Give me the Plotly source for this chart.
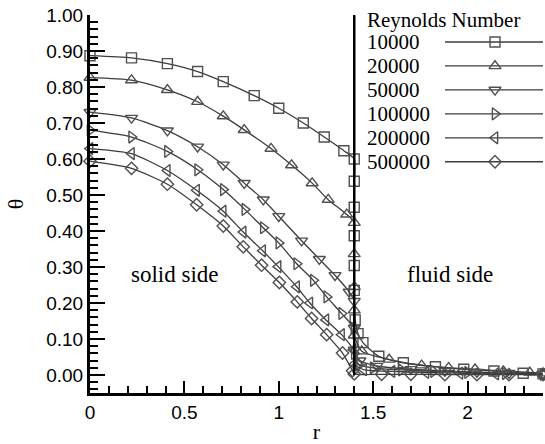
import plotly.graph_objects as go

# ---------------- data ----------------
reynolds = ["10000", "20000", "50000", "100000", "200000", "500000"]
symbols = ["square-open", "triangle-up-open", "triangle-down-open",
           "triangle-right-open", "triangle-left-open", "diamond-open"]

r_10000 = [0, 0.22, 0.41, 0.57, 0.706, 0.87, 1.0, 1.13, 1.241, 1.345, 1.40,
           1.40, 1.40, 1.40, 1.40, 1.40, 1.405, 1.42, 1.446, 1.53, 1.66, 1.83,
           1.98, 2.14, 2.295, 2.40]
t_10000 = [0.887, 0.881, 0.865, 0.843, 0.815, 0.776, 0.741, 0.70, 0.661, 0.623,
           0.60, 0.538, 0.466, 0.387, 0.304, 0.235, 0.153, 0.115, 0.09, 0.052,
           0.034, 0.023, 0.016, 0.011, 0.005, 0.003]

r_20000 = [0, 0.22, 0.41, 0.57, 0.706, 0.817, 0.959, 1.068, 1.177, 1.262, 1.36,
           1.40, 1.40, 1.40, 1.40, 1.40, 1.44, 1.585, 1.757, 1.90, 2.04, 2.19,
           2.33, 2.40]
t_20000 = [0.826, 0.819, 0.792, 0.759, 0.719, 0.681, 0.629, 0.583, 0.533, 0.487,
           0.446, 0.423, 0.336, 0.245, 0.18, 0.11, 0.066, 0.043, 0.027, 0.02,
           0.016, 0.011, 0.007, 0.005]

r_50000 = [0, 0.22, 0.41, 0.57, 0.706, 0.817, 0.918, 1.0, 1.121, 1.215, 1.298,
           1.373, 1.40, 1.40, 1.40, 1.43, 1.52, 1.70, 1.88, 2.05, 2.22, 2.40]
t_50000 = [0.73, 0.714, 0.679, 0.634, 0.584, 0.533, 0.487, 0.441, 0.373, 0.322,
           0.277, 0.231, 0.205, 0.13, 0.07, 0.04, 0.025, 0.016, 0.011, 0.008,
           0.005, 0.003]

r_100000 = [0, 0.22, 0.41, 0.57, 0.706, 0.82, 0.918, 1.0, 1.095, 1.183, 1.254,
            1.333, 1.398, 1.40, 1.42, 1.50, 1.65, 1.82, 2.0, 2.2, 2.40]
t_100000 = [0.68, 0.661, 0.621, 0.57, 0.515, 0.46, 0.409, 0.367, 0.309, 0.263,
            0.217, 0.171, 0.13, 0.06, 0.03, 0.02, 0.014, 0.01, 0.007, 0.004, 0.002]

r_200000 = [0, 0.22, 0.41, 0.565, 0.706, 0.812, 0.915, 0.997, 1.095, 1.165, 1.25,
            1.333, 1.395, 1.40, 1.45, 1.60, 1.78, 1.96, 2.15, 2.40]
t_200000 = [0.629, 0.615, 0.568, 0.513, 0.455, 0.397, 0.345, 0.301, 0.245, 0.20,
            0.153, 0.112, 0.07, 0.03, 0.015, 0.01, 0.007, 0.005, 0.003, 0.002]

r_500000 = [0, 0.22, 0.41, 0.565, 0.706, 0.812, 0.909, 1.003, 1.098, 1.174, 1.254,
            1.338, 1.391, 1.40, 1.545, 1.70, 1.88, 2.05, 2.22, 2.40]
t_500000 = [0.594, 0.574, 0.53, 0.473, 0.414, 0.356, 0.305, 0.257, 0.203, 0.157,
            0.112, 0.061, 0.012, 0.003, 0.002, 0.002, 0.001, 0.001, 0.001, 0.001]

r_series = [r_10000, r_20000, r_50000, r_100000, r_200000, r_500000]
t_series = [t_10000, t_20000, t_50000, t_100000, t_200000, t_500000]

interface_r = 1.4
x_ticks = [0, 0.5, 1, 1.5, 2]
y_ticks = [0.0, 0.1, 0.2, 0.3, 0.4, 0.5, 0.6, 0.7, 0.8, 0.9, 1.0]

# ---------------- styling ----------------
W, H = 545, 444
ML, MR, MT, MB = 90, 2, 15, 47
LINE_C = "#3c3c3c"
MARK_C = "#505050"
SERIF = "Liberation Serif"
SANS = "Liberation Sans"
marker_sizes = [10, 10.5, 10.5, 10.5, 10.5, 9.5]


def px_x(px):
    return (px - ML) / (W - ML - MR)


def px_y(py):
    return (H - MB - py) / (H - MT - MB)


fig = go.Figure()

for r, t, sym, ms, name in zip(r_series, t_series, symbols, marker_sizes, reynolds):
    fig.add_trace(go.Scatter(
        x=r, y=t, mode="lines+markers", name=name,
        line=dict(color=LINE_C, width=1.3, shape="spline", smoothing=0.6),
        marker=dict(symbol=sym, size=ms, color=MARK_C, line=dict(width=1.4, color=MARK_C)),
        cliponaxis=False, showlegend=False,
    ))

# interface line
fig.add_trace(go.Scatter(
    x=[interface_r, interface_r], y=[0.0, 1.0], mode="lines",
    line=dict(color="black", width=2.5), showlegend=False, hoverinfo="skip",
))

# ---------------- manual legend (text left, sample right) ----------------
legend_text_x = px_x(365)
legend_line_x0 = px_x(445)
legend_line_x1 = px_x(543)
legend_mark_x = px_x(495)
title_py = 20
row0_py = 42.3
row_dy = 24.2

annotations = [dict(xref="paper", yref="paper", x=legend_text_x, y=px_y(title_py),
                    text="Reynolds Number", showarrow=False, xanchor="left",
                    yanchor="middle", font=dict(family=SERIF, size=21, color="black"))]

for i, (name, sym, ms) in enumerate(zip(reynolds, symbols, marker_sizes)):
    yy = px_y(row0_py + i * row_dy)
    annotations.append(dict(xref="paper", yref="paper", x=legend_text_x, y=yy,
                            text=name, showarrow=False, xanchor="left", yanchor="middle",
                            font=dict(family=SERIF, size=21, color="black")))
    fig.add_trace(go.Scatter(
        x=[legend_line_x0, legend_line_x1], y=[yy, yy], mode="lines",
        line=dict(color=LINE_C, width=1.3), xaxis="x2", yaxis="y2",
        showlegend=False, hoverinfo="skip"))
    fig.add_trace(go.Scatter(
        x=[legend_mark_x], y=[yy], mode="markers",
        marker=dict(symbol=sym, size=ms, color=MARK_C, line=dict(width=1.4, color=MARK_C)),
        xaxis="x2", yaxis="y2", showlegend=False, hoverinfo="skip", cliponaxis=False))

annotations.append(dict(x=0.45, y=0.28, xref="x", yref="y", text="solid side",
                        showarrow=False, font=dict(family=SERIF, size=23, color="black")))
annotations.append(dict(x=1.907, y=0.28, xref="x", yref="y", text="fluid side",
                        showarrow=False, font=dict(family=SERIF, size=23, color="black")))

fig.update_layout(
    width=W, height=H,
    margin=dict(l=ML, r=MR, t=MT, b=MB),
    plot_bgcolor="white", paper_bgcolor="white",
    showlegend=False,
    annotations=annotations,
    xaxis=dict(
        range=[0, 2.4], tickvals=x_ticks, ticktext=[str(v) for v in x_ticks],
        showline=True, linewidth=3, linecolor="black", mirror=False,
        ticks="inside", ticklen=12, tickwidth=2, tickcolor="black",
        minor=dict(ticks="inside", ticklen=7, tickwidth=1.5, tickcolor="black", dtick=0.1, tick0=0),
        showgrid=False, zeroline=False,
        tickfont=dict(family=SANS, size=19, color="black"),
        title=dict(text="r", font=dict(family=SERIF, size=22, color="black"), standoff=4),
    ),
    yaxis=dict(
        range=[-0.05, 1.0], tickvals=y_ticks, tickformat=".2f",
        showline=True, linewidth=3, linecolor="black", mirror=False,
        ticks="inside", ticklen=15, tickwidth=2, tickcolor="black",
        minor=dict(ticks="inside", ticklen=8, tickwidth=1.5, tickcolor="black", dtick=0.02, tick0=0),
        showgrid=False, zeroline=False,
        tickfont=dict(family=SANS, size=19, color="black"),
        title=dict(text="θ", font=dict(family=SERIF, size=22, color="black"), standoff=17),
    ),
    xaxis2=dict(range=[0, 1], overlaying="x", visible=False, fixedrange=True),
    yaxis2=dict(range=[0, 1], overlaying="y", anchor="x2", visible=False, fixedrange=True),
)

fig.write_html("out.html")
